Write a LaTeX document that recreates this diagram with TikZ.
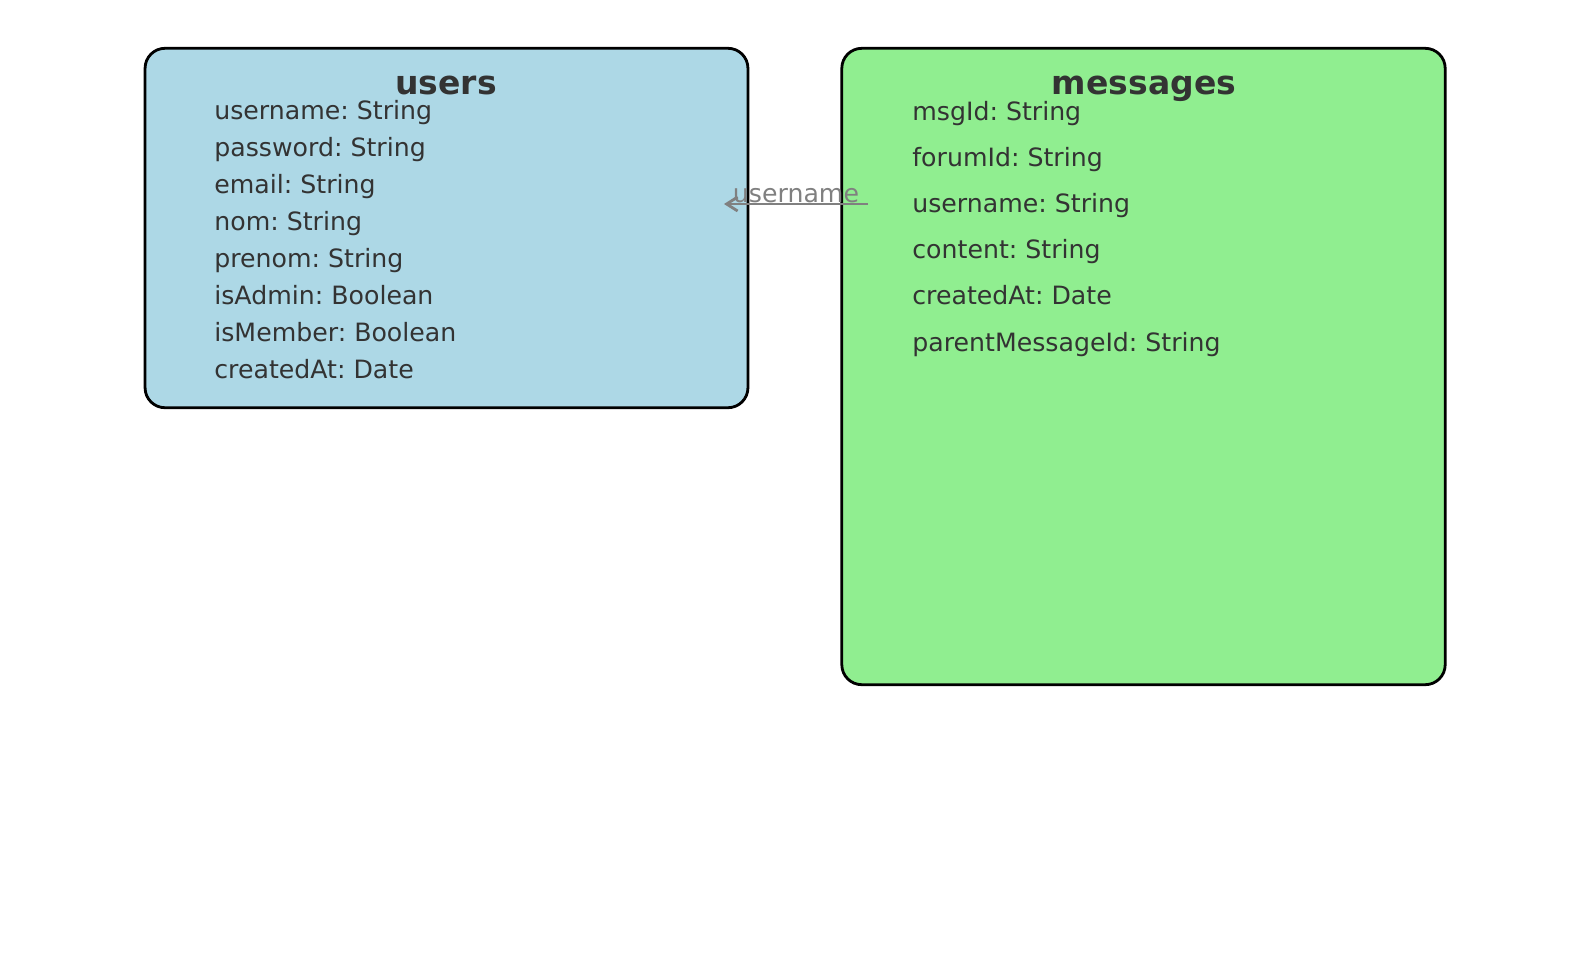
\documentclass[tikz,border=0pt]{standalone}
\usepackage{fontspec}
\setmainfont{DejaVu Sans}
\frenchspacing
\usetikzlibrary{arrows.meta}
\definecolor{ErdBlue}{RGB}{173,216,230}
\definecolor{ErdGreen}{RGB}{144,238,144}
\definecolor{ErdText}{RGB}{51,51,51}
\definecolor{ErdGray}{RGB}{128,128,128}
\tikzset{
  erd/table/.style={
    draw=black,
    line width=1.6pt,
    rounded corners=0.4cm,
    inner sep=0pt
  },
  erd/title/.style={anchor=base, inner sep=0pt, text=ErdText, font=\fontsize{18.8}{22}\selectfont\bfseries},
  erd/field/.style={anchor=base west, inner sep=0pt, text=ErdText, font=\fontsize{14.35}{17}\selectfont},
  erd/ref/.style={-{Straight Barb[length=0.22cm,width=0.28cm]}, line width=1.6pt, draw=ErdGray},
  erd/reflabel/.style={above, inner sep=0pt, text=ErdGray, font=\fontsize{14.35}{17}\selectfont}
}

\begin{document}
\begin{tikzpicture}[x=0.02cm,y=-0.02cm]
  \useasboundingbox (0,0) rectangle (1589,964);
  % users table
  \node[erd/table,fill=ErdBlue,minimum width=12.06cm,minimum height=7.19cm] (users) at (446.5,228) {};
  \node[erd/title] (users-title) at (446,94) {users};
  \node[erd/field] (u-username) at (214,119) {username: String};
  \node[erd/field] (u-password) at (214,156) {password: String};
  \node[erd/field] (u-email) at (214,193) {email: String};
  \node[erd/field] (u-nom) at (214,230) {nom: String};
  \node[erd/field] (u-prenom) at (214,267) {prenom: String};
  \node[erd/field] (u-admin) at (214,304) {isAdmin: Boolean};
  \node[erd/field] (u-member) at (214,341) {isMember: Boolean};
  \node[erd/field] (u-created) at (214,378) {createdAt: Date};
  % messages table
  \node[erd/table,fill=ErdGreen,minimum width=12.07cm,minimum height=12.73cm] (messages) at (1143.5,366.5) {};
  \node[erd/title] (messages-title) at (1144,94) {messages};
  \node[erd/field] (m-msgid) at (912,120) {msgId: String};
  \node[erd/field] (m-forumid) at (912,166.2) {forumId: String};
  \node[erd/field] (m-username) at (912,212.4) {username: String};
  \node[erd/field] (m-content) at (912,258.6) {content: String};
  \node[erd/field] (m-created) at (912,304.8) {createdAt: Date};
  \node[erd/field] (m-parent) at (912,351) {parentMessageId: String};
  % reference
  \coordinate (msg-ref) at (868,204);
  \coordinate (user-ref) at (724,204);
  \draw[erd/ref] (msg-ref) -- node[erd/reflabel] (ref-label) {username} (user-ref);
\end{tikzpicture}
\end{document}
